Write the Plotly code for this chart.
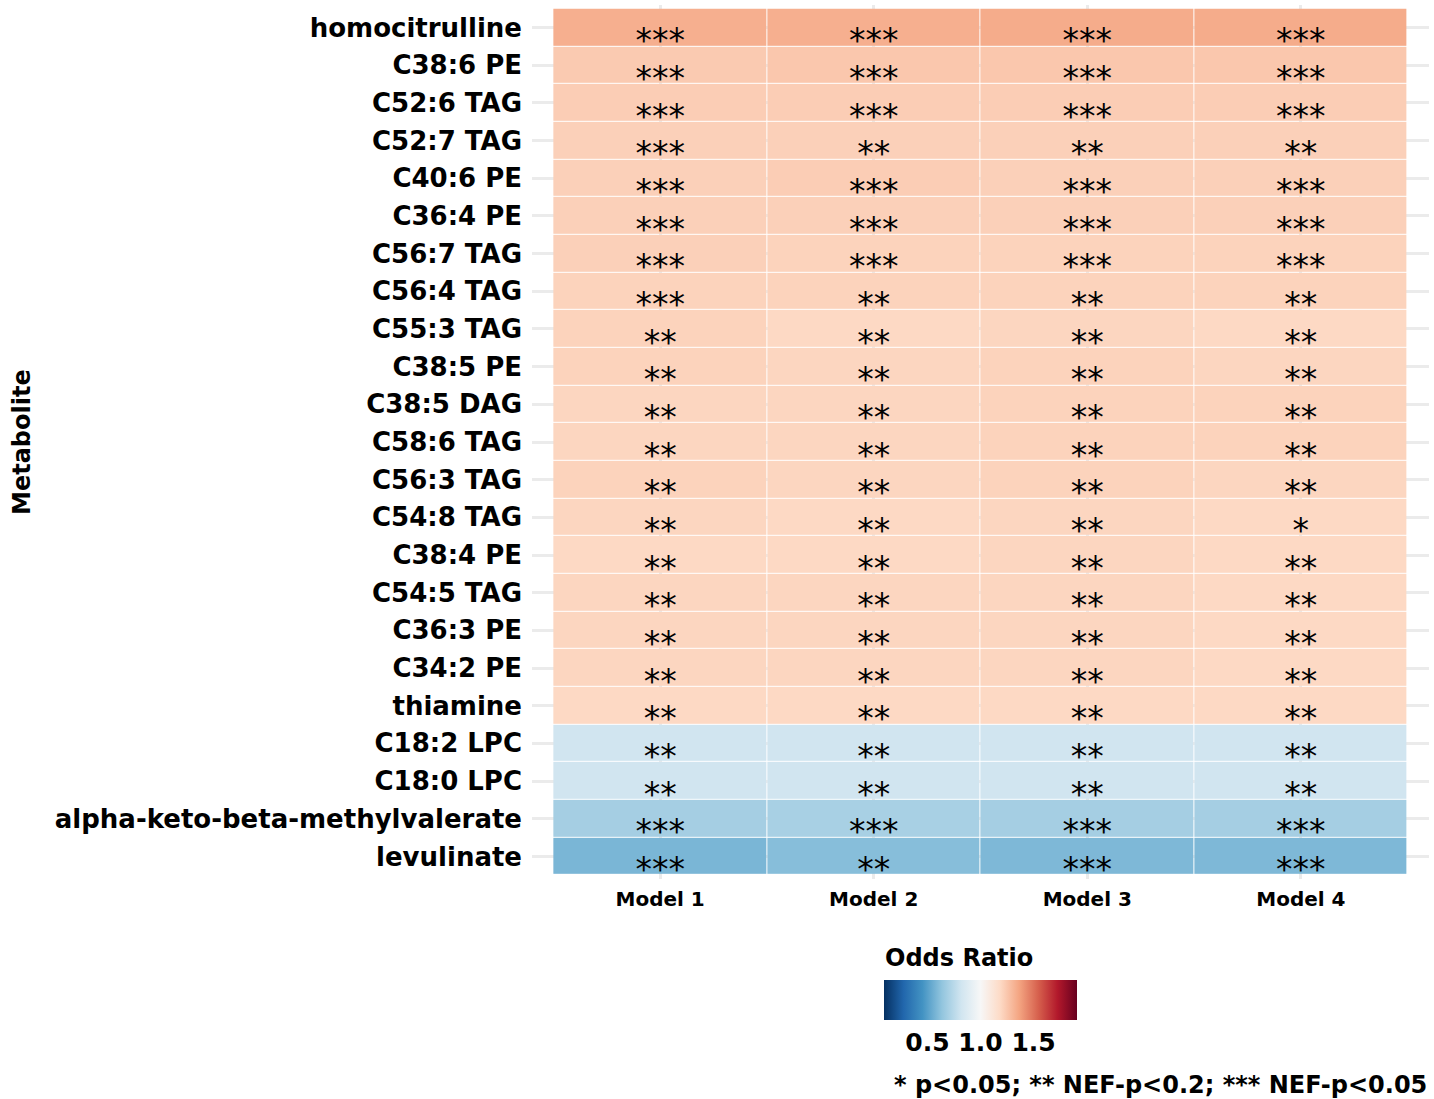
import plotly.graph_objects as go

models = ["Model 1", "Model 2", "Model 3", "Model 4"]

metabolites = [
    "homocitrulline", "C38:6 PE", "C52:6 TAG", "C52:7 TAG", "C40:6 PE",
    "C36:4 PE", "C56:7 TAG", "C56:4 TAG", "C55:3 TAG", "C38:5 PE",
    "C38:5 DAG", "C58:6 TAG", "C56:3 TAG", "C54:8 TAG", "C38:4 PE",
    "C54:5 TAG", "C36:3 PE", "C34:2 PE", "thiamine", "C18:2 LPC",
    "C18:0 LPC", "alpha-keto-beta-methylvalerate", "levulinate",
]

odds_ratio = [
    [1.33, 1.33, 1.34, 1.34],
    [1.24, 1.25, 1.25, 1.25],
    [1.23, 1.23, 1.23, 1.23],
    [1.22, 1.22, 1.22, 1.22],
    [1.22, 1.23, 1.22, 1.22],
    [1.22, 1.22, 1.22, 1.22],
    [1.22, 1.21, 1.21, 1.21],
    [1.21, 1.21, 1.21, 1.21],
    [1.21, 1.19, 1.20, 1.19],
    [1.21, 1.20, 1.21, 1.20],
    [1.20, 1.20, 1.21, 1.21],
    [1.20, 1.20, 1.21, 1.21],
    [1.21, 1.20, 1.21, 1.20],
    [1.20, 1.19, 1.20, 1.19],
    [1.19, 1.19, 1.20, 1.19],
    [1.20, 1.20, 1.20, 1.19],
    [1.20, 1.20, 1.20, 1.19],
    [1.20, 1.20, 1.20, 1.19],
    [1.19, 1.19, 1.19, 1.19],
    [0.82, 0.82, 0.82, 0.82],
    [0.82, 0.82, 0.82, 0.82],
    [0.69, 0.70, 0.69, 0.69],
    [0.58, 0.61, 0.59, 0.59],
]

significance = [
    ["***", "***", "***", "***"],
    ["***", "***", "***", "***"],
    ["***", "***", "***", "***"],
    ["***", "**", "**", "**"],
    ["***", "***", "***", "***"],
    ["***", "***", "***", "***"],
    ["***", "***", "***", "***"],
    ["***", "**", "**", "**"],
    ["**", "**", "**", "**"],
    ["**", "**", "**", "**"],
    ["**", "**", "**", "**"],
    ["**", "**", "**", "**"],
    ["**", "**", "**", "**"],
    ["**", "**", "**", "*"],
    ["**", "**", "**", "**"],
    ["**", "**", "**", "**"],
    ["**", "**", "**", "**"],
    ["**", "**", "**", "**"],
    ["**", "**", "**", "**"],
    ["**", "**", "**", "**"],
    ["**", "**", "**", "**"],
    ["***", "***", "***", "***"],
    ["***", "**", "***", "***"],
]

colorbar_ticks = [0.5, 1.0, 1.5]
colorbar_title = "Odds Ratio"
caption = "* p<0.05; ** NEF-p<0.2; *** NEF-p<0.05"

# RdBu (ColorBrewer) low = blue, high = red
rdbu = ["#053061", "#2166ac", "#4393c3", "#92c5de", "#d1e5f0", "#f7f7f7",
        "#fddbc7", "#f4a582", "#d6604d", "#b2182b", "#67001f"]
colorscale = [[i / (len(rdbu) - 1), c] for i, c in enumerate(rdbu)]

BOLD = dict(family="DejaVu Sans", weight="bold", color="black")

W, H = 1434, 1099
ML, MR, MT, MB = 532, 5, 5, 220
PW, PH = W - ML - MR, H - MT - MB

fig = go.Figure()
fig.add_trace(go.Heatmap(
    x=models, y=metabolites, z=odds_ratio,
    colorscale=colorscale, zmin=0.09, zmax=1.91,
    xgap=1, ygap=1, hoverongaps=False,
    colorbar=dict(
        orientation="h",
        xref="paper", yref="paper",
        x=(884 - ML) / PW, xanchor="left",
        y=(MT + PH - 980) / PH, yanchor="top",
        xpad=0, ypad=0,
        len=193, lenmode="pixels",
        thickness=40, thicknessmode="pixels",
        outlinewidth=0,
        tickvals=colorbar_ticks, tickformat=".1f",
        ticks="", ticklabelposition="outside bottom",
        tickfont=dict(size=25, **BOLD),
    ),
))

tx, ty, tt = [], [], []
for i, m in enumerate(metabolites):
    for j, md in enumerate(models):
        tx.append(md)
        ty.append(m)
        tt.append(significance[i][j])

fig.add_trace(go.Scatter(
    x=tx, y=ty, text=tt, mode="text", textposition="bottom center",
    textfont=dict(family="DejaVu Sans", size=33, color="black"),
    hoverinfo="skip", showlegend=False,
))

fig.update_layout(
    width=W, height=H,
    margin=dict(l=ML, r=MR, t=MT, b=MB),
    paper_bgcolor="white", plot_bgcolor="white",
    showlegend=False,
    xaxis=dict(
        type="category", categoryorder="array", categoryarray=models,
        range=[-0.6, 3.6], showgrid=True, gridcolor="#EBEBEB", gridwidth=2.5,
        zeroline=False, showline=False, ticks="",
        tickfont=dict(size=20, **BOLD), ticklabelstandoff=6,
    ),
    yaxis=dict(
        type="category", categoryorder="array", categoryarray=metabolites,
        range=[22.6, -0.6], showgrid=True, gridcolor="#EBEBEB", gridwidth=2.5,
        zeroline=False, showline=False, ticks="",
        tickfont=dict(size=26, **BOLD), ticklabelstandoff=9,
    ),
    annotations=[
        dict(text="Metabolite", textangle=-90, xref="paper", yref="paper",
             x=(22 - ML) / PW, y=0.5, xanchor="center", yanchor="middle",
             showarrow=False, font=dict(size=24, **BOLD)),
        dict(text=colorbar_title, xref="paper", yref="paper",
             x=(883 - ML) / PW, y=(MT + PH - 958) / PH,
             xanchor="left", yanchor="middle",
             showarrow=False, font=dict(size=24, **BOLD)),
        dict(text=caption, xref="paper", yref="paper",
             x=(1429 - ML) / PW, y=(MT + PH - 1085) / PH,
             xanchor="right", yanchor="middle",
             showarrow=False, font=dict(size=24, **BOLD)),
    ],
)

fig.write_html("out.html", config={"displayModeBar": False},
               post_script="document.body.style.margin='0';")
